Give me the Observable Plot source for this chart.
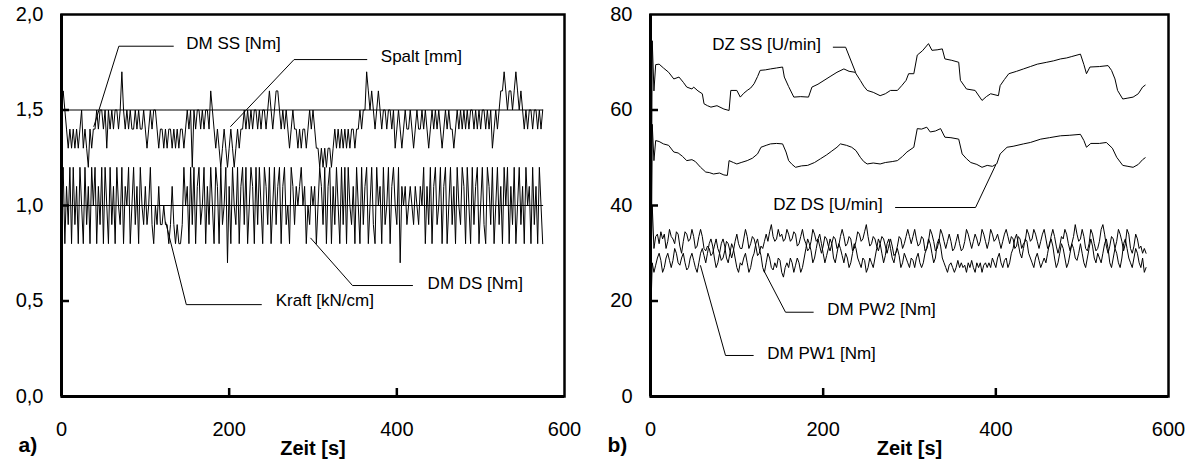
<!DOCTYPE html>
<html><head><meta charset="utf-8">
<script src="https://cdn.jsdelivr.net/npm/d3@7"></script>
<script src="https://cdn.jsdelivr.net/npm/@observablehq/plot@0.6"></script>
<style>body{margin:0;background:#fff}#wrap{display:flex;width:1195px;height:466px;overflow:hidden}</style>
</head><body><div id="wrap"></div><script>
// ---------- data ----------
const stepLeft = 2;   // s between samples of the noisy torque series (panel a)
const stepPW = 2;     // s between samples of DM PW1 / DM PW2 (panel b)
const tEnd = 574;

const dmSS = [
1.5,1.6,1.5,1.4,1.3,1.4,1.3,1.4,1.3,1.4, 1.3,1.4,1.5,1.3,1.4,1.3,1.2,1.4,1.3,1.4,
1.4,1.5,1.4,1.5,1.5,1.4,1.5,1.3,1.5,1.4, 1.5,1.4,1.5,1.5,1.4,1.5,1.7,1.5,1.4,1.5,
1.4,1.5,1.4,1.4,1.5,1.4,1.5,1.4,1.4,1.5, 1.4,1.3,1.4,1.5,1.4,1.5,1.5,1.4,1.3,1.4,
1.4,1.3,1.4,1.3,1.4,1.4,1.3,1.4,1.3,1.4, 1.3,1.4,1.4,1.3,1.4,1.5,1.4,1.5,1.2,1.5,
1.4,1.5,1.5,1.4,1.5,1.4,1.5,1.5,1.4,1.6, 1.5,1.4,1.3,1.4,1.3,1.2,1.3,1.4,1.3,1.2,
1.3,1.4,1.3,1.2,1.3,1.4,1.3,1.4,1.4,1.5, 1.4,1.5,1.4,1.5,1.4,1.5,1.5,1.4,1.5,1.4,
1.5,1.5,1.4,1.5,1.6,1.5,1.4,1.5,1.6,1.6, 1.5,1.4,1.5,1.4,1.5,1.4,1.3,1.4,1.5,1.4,
1.4,1.3,1.4,1.3,1.4,1.4,1.3,1.4,1.5,1.4, 1.5,1.4,1.3,1.3,1.2,1.3,1.2,1.3,1.2,1.3,
1.3,1.2,1.3,1.4,1.3,1.4,1.3,1.4,1.3,1.4, 1.3,1.4,1.3,1.4,1.4,1.3,1.4,1.4,1.5,1.4,
1.5,1.5,1.7,1.6,1.5,1.6,1.5,1.4,1.5,1.6, 1.5,1.4,1.5,1.5,1.4,1.5,1.5,1.4,1.5,1.3,
1.4,1.5,1.4,1.3,1.4,1.5,1.4,1.4,1.5,1.4, 1.3,1.4,1.5,1.4,1.4,1.5,1.4,1.5,1.4,1.3,
1.4,1.5,1.4,1.5,1.4,1.5,1.4,1.3,1.4,1.5, 1.4,1.5,1.4,1.4,1.3,1.4,1.5,1.4,1.5,1.4,
1.5,1.4,1.5,1.4,1.5,1.5,1.4,1.5,1.4,1.5, 1.4,1.5,1.5,1.4,1.5,1.4,1.5,1.3,1.4,1.5,
1.4,1.5,1.6,1.6,1.7,1.6,1.5,1.6,1.6,1.5, 1.6,1.7,1.6,1.5,1.6,1.5,1.4,1.5,1.4,1.5,
1.5,1.4,1.5,1.5,1.4,1.5,1.4,1.5];

const dmDS = [
1.0,1.2,0.8,1.1,0.9,1.2,0.8,1.2,0.9,1.1, 0.8,1.2,1.0,0.8,1.2,0.9,1.1,0.8,1.2,1.0,
1.2,0.8,1.1,0.9,1.2,0.8,1.2,1.0,0.8,1.2, 0.9,1.1,0.8,1.2,1.0,0.9,1.2,0.8,1.1,1.0,
1.2,0.8,1.0,1.2,0.9,1.1,0.8,1.2,1.0,0.9, 1.1,0.9,1.0,1.2,0.9,0.8,1.0,0.9,1.1,0.9,
0.9,1.0,0.9,0.9,0.8,0.9,1.1,0.9,0.8,0.9, 0.8,0.8,0.9,1.2,1.0,1.1,0.8,1.2,0.9,1.2,
0.8,1.1,1.2,0.9,1.0,1.2,0.8,1.1,0.9,1.2, 1.0,0.8,1.2,1.1,0.8,1.2,0.9,1.0,1.2,0.7,
1.1,0.8,1.2,1.0,0.9,1.2,0.8,1.1,1.2,0.9, 1.2,0.8,1.0,1.2,1.1,0.8,1.2,0.9,1.2,1.0,
0.8,1.2,1.1,0.9,1.2,0.8,1.0,1.2,0.9,1.1, 1.2,0.8,1.1,1.2,0.9,1.0,0.8,1.2,1.1,0.9,
1.1,1.0,1.1,1.2,1.0,1.1,0.8,1.0,0.9,1.1, 1.0,1.1,0.8,1.0,1.2,1.1,0.9,1.2,0.8,1.1,
1.2,0.8,1.1,0.9,1.2,1.0,0.8,1.2,0.9,1.2, 0.8,1.2,1.0,0.9,1.1,0.8,1.2,1.0,0.8,1.2,
0.9,1.1,1.2,0.8,1.0,1.2,0.9,0.8,1.2,1.0, 1.1,0.8,1.2,0.9,1.0,1.2,0.8,1.1,1.2,1.0,
0.9,1.2,0.7,1.1,1.0,1.1,0.9,1.0,1.1,1.0, 0.9,1.1,1.0,0.9,1.1,1.0,1.2,0.8,1.1,0.9,
1.2,0.8,1.1,1.2,0.9,1.0,1.2,0.8,1.1,1.2, 0.8,1.0,1.2,0.9,1.1,0.8,1.2,1.0,0.9,1.2,
1.1,0.8,1.2,1.0,0.8,1.2,0.9,1.1,1.2,0.8, 1.0,1.2,0.9,0.8,1.2,1.1,0.9,1.2,0.8,1.0,
1.2,0.9,1.1,0.8,1.2,1.0,1.2,0.8,1.1,0.9, 1.2,0.8,1.0,1.2,0.9,1.1,0.8,1.2,1.0,1.1,
0.8,1.2,0.9,1.1,0.8,1.2,1.0,0.8];

const spaltLevel = 1.5;   // Spalt [mm], constant
const kraftLevel = 1.0;   // Kraft [kN/cm], constant

// [time s, U/min]
const dzSS = [[0,0],[2,74.5],[4,64],[6,69.5],[10,69.6],[15,68.8],[21,67.9],[27,66.5],[33,66.9],[38,65.8],[42,64.8],[48,64.4],[50,64.8],[55,64.0],[60,63.4],[62,61.3],[66,60.9],[70,60.6],[77,60.9],[85,60.2],[91,59.9],[93,64.1],[100,64.1],[104,62.7],[108,63.5],[112,64.1],[116,64.6],[120,65.5],[124,67.0],[127,68.3],[133,68.4],[139,68.6],[146,68.8],[153,69.0],[155,66.9],[160,64.9],[166,62.7],[174,62.8],[183,62.7],[187,64.8],[194,65.4],[201,66.2],[208,67.0],[216,67.9],[224,68.6],[230,68.1],[237,67.9],[243,66.2],[247,65.0],[251,64.1],[258,63.7],[266,63.0],[272,63.4],[278,64.1],[286,64.1],[291,65.1],[296,66.2],[299,67.6],[305,67.6],[309,71.5],[315,72.4],[322,73.9],[326,72.5],[332,72.6],[338,72.8],[341,70.7],[349,70.4],[357,70.0],[359,66.2],[366,64.4],[376,64.1],[384,62.0],[389,62.8],[394,63.4],[403,63.0],[405,65.1],[410,66.4],[415,67.6],[424,68.1],[432,68.6],[440,69.1],[448,69.6],[459,70.0],[467,70.3],[475,70.7],[482,70.9],[488,71.2],[498,71.7],[502,69.5],[505,67.6],[509,69.0],[520,69.1],[530,69.3],[534,68.3],[538,66.5],[541,64.1],[547,62.3],[553,62.5],[559,62.7],[565,63.4],[570,64.8],[573,65.2]];

const dzDS = [[0,0],[2,57],[4,49.4],[6,53.6],[10,53.4],[15,52.9],[21,52.6],[27,51.2],[32,51.0],[37,50.3],[42,49.4],[48,49.6],[52,49.2],[58,48.0],[64,47.0],[68,46.9],[73,46.6],[80,46.8],[85,46.4],[89,46.3],[91,49.4],[96,49.0],[100,48.7],[105,49.0],[112,49.4],[118,49.9],[124,50.8],[128,52.2],[134,52.6],[139,52.9],[146,53.0],[153,52.9],[157,51.2],[160,49.4],[164,48.6],[168,48.0],[175,48.3],[182,48.4],[190,49.0],[197,49.8],[204,50.6],[210,51.4],[216,52.2],[220,52.9],[227,52.6],[233,52.2],[238,51.5],[243,50.1],[247,49.2],[251,48.7],[258,48.9],[266,48.7],[272,49.0],[280,49.2],[286,49.4],[292,50.3],[297,51.2],[305,52.2],[309,56.1],[314,56.0],[320,56.4],[324,55.4],[330,55.6],[336,56.1],[341,54.3],[348,54.2],[357,53.9],[361,50.8],[366,49.8],[371,49.0],[378,48.6],[384,48.0],[390,48.4],[396,48.2],[401,48.7],[405,50.8],[413,52.2],[420,52.4],[432,52.9],[440,53.2],[452,53.9],[462,54.2],[475,54.6],[485,54.7],[498,54.9],[502,53.6],[505,52.2],[510,53.0],[520,53.0],[528,53.2],[535,52.0],[540,50.1],[547,48.4],[553,48.2],[559,48.0],[565,48.6],[570,49.6],[573,50.0]];

const dmPW1 = [
22,40,31,33.5,34,32,34.5,33,34,31, 32.5,35,33.5,33,32,34.5,34,31.5,30,32.5, 34.5,34,32.5,33,35,33.5,31,31.5,33.5,35,
33.5,31,30.5,31.5,31,29.5,30,31.5,33,31, 30,28.5,29,30.5,32.5,32,30.5,29,30.5,32.5, 34,32,31,31,33,35,33.5,31,32,33.5,
33,31.5,29.5,30,31.5,31,32.5,34,32.5,34.5, 36,33.5,32.5,33,35,33.5,34,32.5,33,35, 34,32.5,33,34.5,34,31.5,32,33.5,35,33,
32,30.5,31,32.5,35,34,32.5,33,31.5,30, 31.5,33.5,33,31.5,30.5,32,33.5,33,31,31.5, 33.5,35,33.5,31.5,32,33.5,33,30.5,31,32.5,
34.5,34,32.5,33,34.5,36,33.5,31.5,32,33.5, 33,31.5,30.5,32,33.5,33,31.5,30,31.5,33, 31.5,29.5,30,31.5,33.5,33,31,32,33.5,35,
33.5,32,33.5,35,33,31.5,32,33.5,33,30.5, 31,32.5,35,34,32.5,30.5,31,32.5,35,34, 32.5,31,32.5,34,32.5,30.5,31,32.5,34,32,
30.5,31,32.5,35,34,32.5,31,32.5,34,33, 31.5,32.5,35,34,32.5,31,32.5,35,34,32.5, 33,34,32.5,31,32.5,34,35,33.5,32,33.5,
33,31,31.5,33.5,33,31,32,32.5,35,34, 32.5,33,35,34,32.5,31,32.5,34,35,33, 31,31.5,33.5,35,33.5,31.5,30,31.5,33.5,33,
35,34,32,30.5,32,33.5,36,34,32.5,33, 35,33.5,31,30.5,32,35,34,32,30.5,31, 32.5,35,36,34,31.5,30,31.5,33.5,33,31,
32.5,35,34,32.5,30.5,32,35,34,31,30, 31.5,34,33,31,31.5,30,31,30];

const dmPW2 = [
15,28,26,27.5,29,30,28.5,26,27,29, 30,28.5,27,28.5,31,30,28,27.5,29,30, 28,26.5,27,29,30,28.5,27,26,28,30,
31,29.5,28,30,32,33,31.5,29,27,28, 30,32,33,31.5,29,28,30,32,31,29, 27,26,28,27.5,29,30,28,26,27,29,
30,32,33,31,29.5,27,26,28,30,29, 27,26.5,28,27,29,28.5,26,25,27,28, 27,29,28,26,27.5,29,28,26,27,29,
31,33,32,30.5,28,29,31,33,34,32, 30,28,29.5,31,33,32,29,28,30,32, 31,29.5,28,30,29,27,28,30,32,31,
29,28,27,29,28.5,26,27,29,28,27, 29,31,33,32,30,28,29.5,32,33,31, 29,28,30,31,29.5,27,28,30,29,28,
27,29,28.5,27,29,30,28,27,28,30, 31,33,32,30,28,29,32,33,31.5,29, 28,27,26,27.5,28,27,26,27,28.5,27,
28,27,27.5,26,28,27,28.5,27,26,28, 27,28,26,27.5,28,27,28,27,29,28, 27,29,30,28,27,28.5,29,27,28,30,
31,33,34,32,30,29,31,33,32.5,30, 29,28,27,29,30,28.5,27,28,29,28, 30,32,33,31.5,29,27,28,30,32,31,
29,27,28,30,32,31,29,28.5,30,32, 30,28,27,29,31,33,31.5,29,28,30, 29,28,30,32,33,31,28,27,29,31,
30,28,27,29,32,33,31,29,28,27, 29,31,30,28,27,29,26,27];

const xTicks = [0, 200, 400, 600];
const yTicksA = [0, 0.5, 1.0, 1.5, 2.0];
const yTicksB = [0, 20, 40, 60, 80];

// series labels (x in s, y in data units) and leader lines
const labelsA = [
  {text: "DM SS [Nm]", x: 148.9, y: 1.846},
  {text: "Spalt [mm]", x: 380.9, y: 1.782},
  {text: "Kraft [kN/cm]", x: 255.5, y: 0.502},
  {text: "DM DS [Nm]", x: 436.7, y: 0.590}
];
const leadersA = [
  {id: "ss", pts: [[38.6, 1.414], [68.4, 1.834], [133.4, 1.834]]},
  {id: "sp", pts: [[201.8, 1.414], [277.4, 1.764], [364.2, 1.764]]},
  {id: "kr", pts: [[124.2, 0.913], [148.9, 0.481], [238.4, 0.481]]},
  {id: "ds", pts: [[297.3, 0.829], [347.1, 0.581], [418.7, 0.581]]}
];
const labelsB = [
  {text: "DZ SS [U/min]", x: 71.5, y: 73.7},
  {text: "DZ DS [U/min]", x: 142.1, y: 40.2},
  {text: "DM PW2 [Nm]", x: 204.7, y: 18.2},
  {text: "DM PW1 [Nm]", x: 135.2, y: 9.1}
];
const leadersB = [
  {id: "zs", pts: [[211.7, 73.15], [226.0, 73.15], [237.5, 67.9]]},
  {id: "zd", pts: [[283.8, 39.58], [376.5, 39.58], [399.6, 48.4]]},
  {id: "p2", pts: [[131.2, 26.4], [156.4, 17.65], [188.5, 17.65]]},
  {id: "p1", pts: [[57.9, 27.4], [86.9, 8.59], [119.0, 8.59]]}
];

// ---------- build ----------
const uniform = (vals, step) => vals.map((v, i) => ({t: i * step, v}));
const pairs = arr => arr.map(([t, v]) => ({t, v}));
const flat = L => L.flatMap(l => l.pts.map(([x, y]) => ({id: l.id, x, y})));
const comma = d => d.toFixed(1).replace(".", ",");
const H = 466, MT = 14, MB = 70, TICK = 8;

function panel({width, mL, mR, yDomain, yTicks, fmt, series, labels, leaders, letter}) {
  const innerW = width - mL - mR, innerH = H - MT - MB;
  const [y0, yTop] = yDomain;
  const tickY = (yTop - y0) * TICK / innerH;   // tick length in y units
  const tickX = 600 * TICK / innerW;            // tick length in x units
  return Plot.plot({
    width, height: H, marginLeft: mL, marginRight: mR, marginTop: MT, marginBottom: MB,
    style: {fontFamily: "'Liberation Sans', Arial, sans-serif", fontSize: "20px", background: "white", color: "black", overflow: "visible"},
    x: {domain: [0, 600]},
    y: {domain: yDomain},
    marks: [
      ...series.map(s => Plot.line(s, {x: "t", y: "v", stroke: "black", strokeWidth: 1})),
      Plot.line(flat(leaders), {x: "x", y: "y", z: "id", stroke: "black", strokeWidth: 1}),
      Plot.text(labels, {x: "x", y: "y", text: "text", textAnchor: "start", fontSize: 17, fill: "black"}),
      // inward tick marks
      Plot.ruleX(xTicks.slice(1, -1), {x: d => d, y1: y0, y2: y0 + tickY, stroke: "black", strokeWidth: 2.5}),
      Plot.ruleY(yTicks.slice(1, -1), {y: d => d, x1: 0, x2: tickX, stroke: "black", strokeWidth: 2.5}),
      Plot.frame({stroke: "black", strokeWidth: 2.5}),
      Plot.ruleX([0], {stroke: "black", strokeWidth: 3}),
      Plot.ruleY([y0], {stroke: "black", strokeWidth: 3}),
      Plot.axisX({ticks: xTicks, tickSize: 0, tickPadding: 25, fontSize: 20, label: null, tickFormat: d => String(d)}),
      Plot.axisY({ticks: yTicks, tickSize: 0, tickPadding: 18, fontSize: 20, label: null, tickFormat: fmt}),
      Plot.text(["Zeit [s]"], {x: 300, frameAnchor: "bottom", dy: 58, text: d => d, fontWeight: "bold", fontSize: 20, fill: "black"}),
      Plot.text([letter], {frameAnchor: "bottom-left", dx: -43, dy: 55, text: d => d, fontWeight: "bold", fontSize: 21, fill: "black"})
    ]
  });
}

const left = panel({
  width: 590, mL: 61, mR: 26, yDomain: [0, 2], yTicks: yTicksA, fmt: comma,
  series: [
    uniform(dmSS, stepLeft), uniform(dmDS, stepLeft),
    [{t: 0, v: spaltLevel}, {t: tEnd, v: spaltLevel}],
    [{t: 0, v: kraftLevel}, {t: tEnd, v: kraftLevel}]
  ],
  labels: labelsA, leaders: leadersA, letter: "a)"
});
const right = panel({
  width: 605, mL: 60, mR: 27, yDomain: [0, 80], yTicks: yTicksB, fmt: d => String(d),
  series: [pairs(dzSS), pairs(dzDS), uniform(dmPW1, stepPW), uniform(dmPW2, stepPW)],
  labels: labelsB, leaders: leadersB, letter: "b)"
});
document.getElementById("wrap").append(left, right);
</script></body></html>
